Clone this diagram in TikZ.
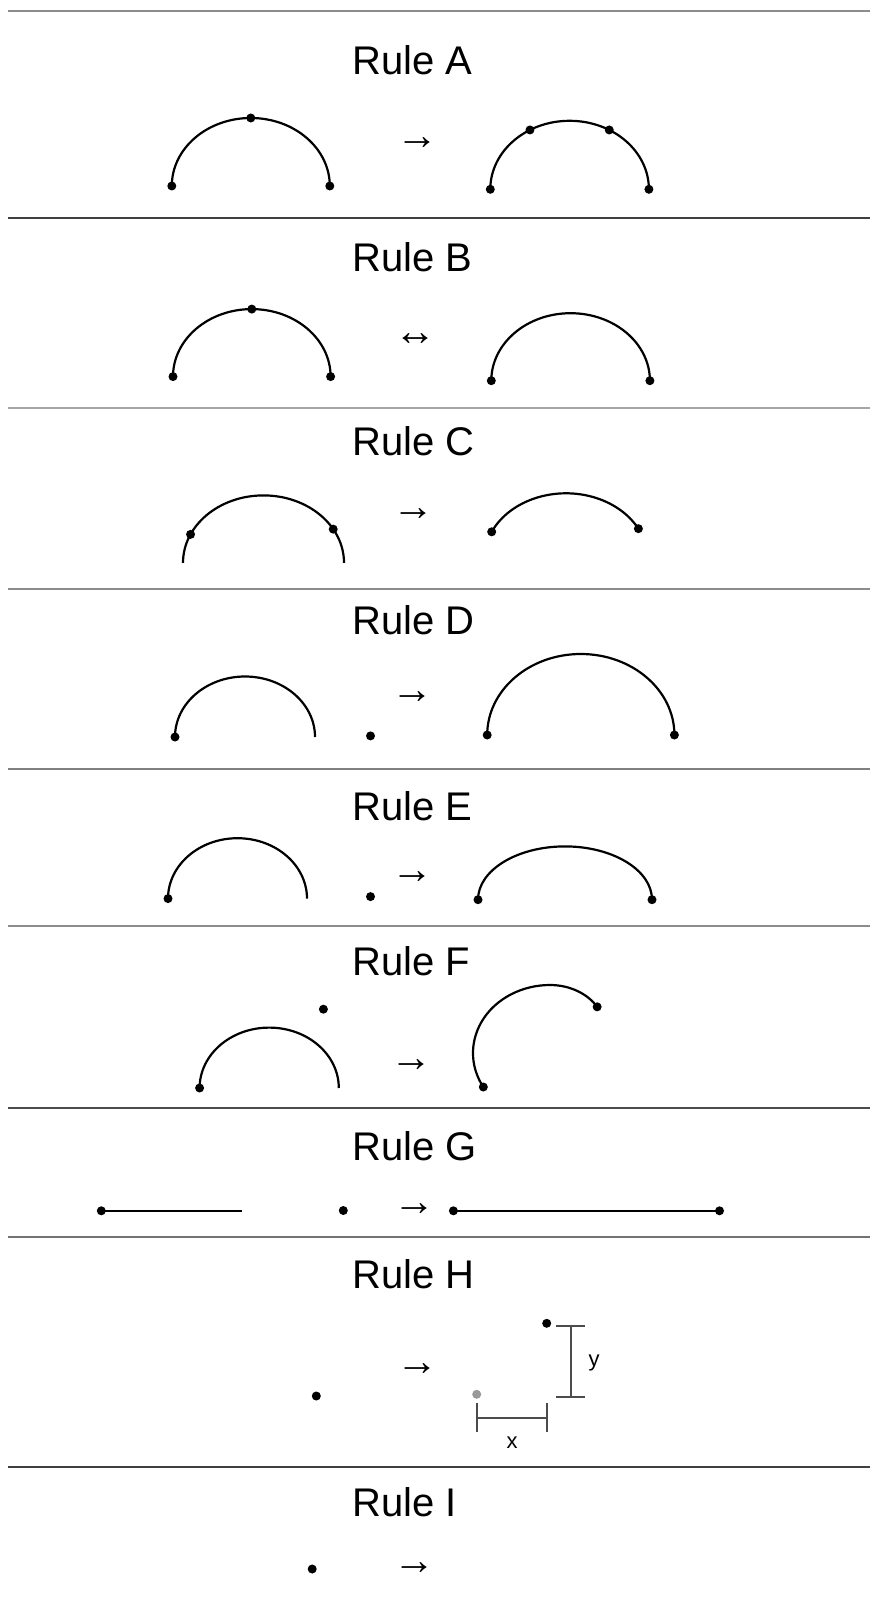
\documentclass[tikz,border=0pt]{standalone}
\usepackage{fontspec}
\setmainfont{Liberation Sans}
\begin{document}
\begin{tikzpicture}[
  x=0.5pt, y=-0.5pt,
  every node/.style={inner sep=0pt},
  ruletitle/.style={anchor=base west, font=\fontsize{20}{24}\selectfont},
  rulearrow/.style={font=\fontsize{21}{25}\selectfont},
  dimlabel/.style={font=\fontsize{11}{13}\selectfont},
  sepline/.style={line width=1pt},
  arcline/.style={line width=1.1pt},
  dimline/.style={line width=0.9pt, black!70},
  dot/.style={fill=black},
  ghostdot/.style={fill=black!40}]
\useasboundingbox (0,0) rectangle (870,1604);
% separators between the rules
\foreach \ypos/\shade in {11/45, 218/75, 408/35, 589/45, 769/50, 926/45, 1108/70, 1237/55, 1467/75}
  \draw[sepline, black!\shade] (8,\ypos) -- (870,\ypos);
% titles and arrows
\foreach \lbl/\ypos in {A/75, B/271.5, C/455.8, D/634.9, E/820.5, F/975, G/1160.5, H/1288.5, I/1516}
  \node[ruletitle] (title\lbl) at (352,\ypos) {Rule \lbl};
\foreach \lbl/\xpos/\ypos/\glyph in {A/417.6/143.3/→, B/415.5/339.3/↔, C/413.5/514.8/→,
    D/412.5/698/→, E/412.5/877.1/→, F/411.5/1065.5/→, G/414.5/1209.8/→,
    H/417.6/1369.4/→, I/414.5/1569/→}
  \node[rulearrow] (arrow\lbl) at (\xpos,\ypos) {\glyph};

% Rule A
\coordinate (arcA1) at (250.8,186);
\draw[arcline] (arcA1) ++(180:79 and 68) arc[start angle=180, end angle=360, x radius=79, y radius=68];
\foreach \ang in {180,270,360} \fill[dot] (arcA1) ++(\ang:79 and 68) circle[radius=4.5];
\coordinate (arcA2) at (569.6,189.3);
\draw[arcline] (arcA2) ++(180:79.3 and 68.5) arc[start angle=180, end angle=360, x radius=79.3, y radius=68.5];
\foreach \ang in {180,240,300,360} \fill[dot] (arcA2) ++(\ang:79.3 and 68.5) circle[radius=4.5];

% Rule B
\coordinate (arcB1) at (251.8,376.6);
\draw[arcline] (arcB1) ++(180:78.8 and 67.5) arc[start angle=180, end angle=360, x radius=78.8, y radius=67.5];
\foreach \ang in {180,270,360} \fill[dot] (arcB1) ++(\ang:78.8 and 67.5) circle[radius=4.5];
\coordinate (arcB2) at (570.6,380.7);
\draw[arcline] (arcB2) ++(180:79.3 and 67.5) arc[start angle=180, end angle=360, x radius=79.3, y radius=67.5];
\foreach \ang in {180,360} \fill[dot] (arcB2) ++(\ang:79.3 and 67.5) circle[radius=4.5];

% Rule C
\coordinate (arcC1) at (263.5,562.9);
\draw[arcline] (arcC1) ++(180:80.5 and 67.5) arc[start angle=180, end angle=360, x radius=80.5, y radius=67.5];
\foreach \ang in {205,330} \fill[dot] (arcC1) ++(\ang:80.5 and 67.5) circle[radius=4.5];
\coordinate (arcC2) at (566,560);
\draw[arcline] (arcC2) ++(205:82 and 66.7) arc[start angle=205, end angle=332, x radius=82, y radius=66.7];
\foreach \ang in {205,332} \fill[dot] (arcC2) ++(\ang:82 and 66.7) circle[radius=4.5];

% Rule D
\coordinate (arcD1) at (245,737);
\draw[arcline] (arcD1) ++(180:70 and 60.5) arc[start angle=180, end angle=360, x radius=70, y radius=60.5];
\fill[dot] (arcD1) ++(180:70 and 60.5) circle[radius=4.5];
\fill[dot] (370.5,735.9) circle[radius=4.5];
\coordinate (arcD2) at (580.8,735);
\draw[arcline] (arcD2) ++(180:93.6 and 81) arc[start angle=180, end angle=360, x radius=93.6, y radius=81];
\foreach \ang in {180,360} \fill[dot] (arcD2) ++(\ang:93.6 and 81) circle[radius=4.5];

% Rule E
\coordinate (arcE1) at (237.5,898.6);
\draw[arcline] (arcE1) ++(180:69.5 and 60.4) arc[start angle=180, end angle=360, x radius=69.5, y radius=60.4];
\fill[dot] (arcE1) ++(180:69.5 and 60.4) circle[radius=4.5];
\fill[dot] (370.5,896.6) circle[radius=4.5];
\coordinate (arcE2) at (565,899.7);
\draw[arcline] (arcE2) ++(180:87 and 53.3) arc[start angle=180, end angle=360, x radius=87, y radius=53.3];
\foreach \ang in {180,360} \fill[dot] (arcE2) ++(\ang:87 and 53.3) circle[radius=4.5];

% Rule F
\fill[dot] (323.4,1009.2) circle[radius=4.5];
\coordinate (arcF1) at (269.2,1088);
\draw[arcline] (arcF1) ++(180:69.6 and 60.4) arc[start angle=180, end angle=360, x radius=69.6, y radius=60.4];
\fill[dot] (arcF1) ++(180:69.6 and 60.4) circle[radius=4.5];
\coordinate (arcF2) at (550,1053);
\draw[arcline] (arcF2) ++(150:77 and 68) coordinate (fStart)
  arc[start angle=150, end angle=270, x radius=77, y radius=68]
  arc[start angle=270, end angle=329, x radius=55, y radius=45] coordinate (fEnd);
\fill[dot] (fStart) circle[radius=4.5] (fEnd) circle[radius=4.5];

% Rule G
\draw[arcline] (101.3,1210.8) -- (241.5,1210.8);
\fill[dot] (101.3,1210.8) circle[radius=4.5];
\fill[dot] (343.3,1210.5) circle[radius=4.5];
\draw[arcline] (453.4,1210.8) -- (719.5,1210.8);
\fill[dot] (453.4,1210.8) circle[radius=4.5] (719.5,1210.8) circle[radius=4.5];

% Rule H
\fill[dot] (316.3,1396) circle[radius=4.5];
\fill[dot] (546.7,1323.3) circle[radius=4.5];
\fill[ghostdot] (476.7,1394.3) circle[radius=4.5];
\draw[dimline] (556,1326) -- (585,1326) (571,1326) -- (571,1396.7) (556,1396.7) -- (585,1396.7);
\node[dimlabel] (dimy) at (594,1363) {y};
\draw[dimline] (477,1403) -- (477,1432) (477,1417.7) -- (546.7,1417.7) (546.7,1403) -- (546.7,1432);
\node[dimlabel] (dimx) at (512,1442.5) {x};

% Rule I
\fill[dot] (312.2,1569) circle[radius=4.5];
\end{tikzpicture}
\end{document}
